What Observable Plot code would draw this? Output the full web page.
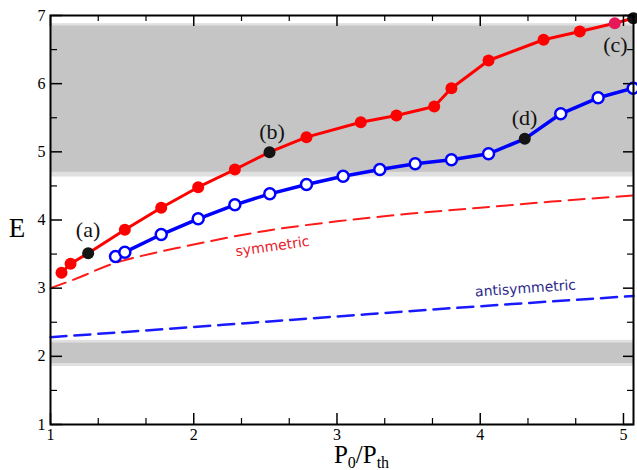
<!DOCTYPE html>
<html>
<head>
<meta charset="utf-8">
<script src="https://cdn.jsdelivr.net/npm/d3@7"></script>
<script src="https://cdn.jsdelivr.net/npm/@observablehq/plot@0.6"></script>
<style>
  html, body { margin: 0; padding: 0; background: white; }
</style>
</head>
<body>
<div id="chart"></div>
<script>
// ---- data ----
const redX = [1.077, 1.140, 1.263, 1.519, 1.773, 2.031, 2.287, 2.529, 2.787, 3.166, 3.415, 3.679, 3.799, 4.058, 4.442, 4.695, 4.939, 5.068];
const redY = [3.226, 3.358, 3.513, 3.856, 4.179, 4.481, 4.741, 4.995, 5.215, 5.435, 5.533, 5.665, 5.933, 6.340, 6.644, 6.765, 6.887, 6.960];
const blueX = [1.454, 1.519, 1.773, 2.031, 2.287, 2.531, 2.787, 3.043, 3.299, 3.546, 3.799, 4.058, 4.311, 4.562, 4.823, 5.068];
const blueY = [3.465, 3.528, 3.787, 4.018, 4.223, 4.384, 4.521, 4.643, 4.741, 4.825, 4.883, 4.971, 5.191, 5.558, 5.793, 5.934];
const redMarked = [2, 7, 17];   // points (a), (b), (c)
const redPink = [16];
const blueMarked = [12];        // point (d)

const symX = [1, 1.25, 1.5, 2, 2.5, 3, 3.5, 4, 4.5, 5.07];
const symY = [3.0, 3.2, 3.40, 3.64, 3.84, 3.98, 4.09, 4.18, 4.27, 4.36];
const antiX = [1, 2, 3, 4, 5.07];
const antiY = [2.28, 2.43, 2.585, 2.735, 2.885];

const bandLo = [4.63, 1.85];
const bandHi = [6.88, 2.235];
const bandCoreLo = [4.70, 1.895];
const bandCoreHi = [6.845, 2.195];

const ptLabels = ["(a)", "(b)", "(c)", "(d)"];
const ptLabelX = [1.262, 2.546, 4.944, 4.309];
const ptLabelY = [3.861, 5.298, 6.575, 5.504];

const curveLabels = ["symmetric", "antisymmetric"];
const curveLabelX = [2.55, 4.316];
const curveLabelY = [3.611, 2.995];

const xTicks = [1, 2, 3, 4, 5];
const xMinor = [4/3, 5/3, 7/3, 8/3, 10/3, 11/3, 13/3, 14/3];
const yTicks = [1, 2, 3, 4, 5, 6, 7];
const yMinor = [1.5, 2.5, 3.5, 4.5, 5.5, 6.5];

// ---- tables ----
const zip = (xs, ys) => xs.map((x, i) => ({x, y: ys[i], i}));
const red = zip(redX, redY);
const blue = zip(blueX, blueY);
const sym = zip(symX, symY);
const anti = zip(antiX, antiY);
const bandsLight = bandLo.map((lo, i) => ({lo, hi: bandHi[i]}));
const bandsCore = bandCoreLo.map((lo, i) => ({lo, hi: bandCoreHi[i]}));
const labels = ptLabels.map((t, i) => ({t, x: ptLabelX[i], y: ptLabelY[i]}));

const W = 637, H = 470;
const mL = 50, mR = 4, mT = 15, mB = 46;
const pw = W - mL - mR, ph = H - mT - mB;
const serif = "Liberation Serif, Times New Roman, serif";
const sans = "DejaVu Sans, Verdana, sans-serif";

const redFill = d => redMarked.includes(d.i) ? "#141414" : (redPink.includes(d.i) ? "#e5195a" : "#ff0000");

const chart = Plot.plot({
  width: W, height: H,
  marginLeft: mL, marginRight: mR, marginTop: mT, marginBottom: mB,
  x: {domain: [1, 5.07], label: null},
  y: {domain: [1, 7], label: null},
  style: {fontFamily: serif, fontSize: "16px", background: "white", color: "black"},
  marks: [
    Plot.rect(bandsLight, {y1: "lo", y2: "hi", fill: "#e0e0e0"}),
    Plot.rect(bandsCore, {y1: "lo", y2: "hi", fill: "#c5c5c5"}),
    Plot.line(sym, {x: "x", y: "y", stroke: "#ff1a1a", strokeWidth: 2, strokeDasharray: "16,8", curve: "natural"}),
    Plot.line(anti, {x: "x", y: "y", stroke: "#1a1aff", strokeWidth: 2.5, strokeDasharray: "16,8", curve: "natural"}),
    Plot.line(red, {x: "x", y: "y", stroke: "#ff0000", strokeWidth: 3}),
    Plot.line(blue, {x: "x", y: "y", stroke: "#0000ff", strokeWidth: 3.5}),
    Plot.dot(red, {x: "x", y: "y", r: 6, fill: redFill, stroke: "none"}),
    Plot.dot(blue.filter(d => !blueMarked.includes(d.i)), {x: "x", y: "y", r: 5.5, fill: "white", stroke: "#0000ff", strokeWidth: 2.5}),
    Plot.dot(blue.filter(d => blueMarked.includes(d.i)), {x: "x", y: "y", r: 6, fill: "#141414", stroke: "none"}),
    Plot.text(labels, {x: "x", y: "y", text: "t", fontSize: 22, fontFamily: serif, fill: "#111"}),
    Plot.text([curveLabels[0]], {x: () => curveLabelX[0], y: () => curveLabelY[0], text: d => d, fontSize: 14, fontFamily: sans, fill: "#e8202a", rotate: -8}),
    Plot.text([curveLabels[1]], {x: () => curveLabelX[1], y: () => curveLabelY[1], text: d => d, fontSize: 14, fontFamily: sans, fill: "#2e2a8c", rotate: -4}),
    // ticks (inward)
    Plot.tickX(xTicks, {x: d => d, insetTop: ph - 11, stroke: "black", strokeWidth: 1.5}),
    Plot.tickX(xTicks, {x: d => d, insetBottom: ph - 11, stroke: "black", strokeWidth: 1.5}),
    Plot.tickX(xMinor, {x: d => d, insetTop: ph - 6, stroke: "black", strokeWidth: 1.2}),
    Plot.tickX(xMinor, {x: d => d, insetBottom: ph - 6, stroke: "black", strokeWidth: 1.2}),
    Plot.tickY(yTicks, {y: d => d, insetRight: pw - 12, stroke: "black", strokeWidth: 1.5}),
    Plot.tickY(yTicks, {y: d => d, insetLeft: pw - 10, stroke: "black", strokeWidth: 1.5}),
    Plot.tickY(yMinor, {y: d => d, insetRight: pw - 7, stroke: "black", strokeWidth: 1.2}),
    Plot.tickY(yMinor, {y: d => d, insetLeft: pw - 6, stroke: "black", strokeWidth: 1.2}),
    Plot.axisX(xTicks, {tickSize: 0, tickPadding: 4, fontSize: 16, fontFamily: serif, tickFormat: d => String(d), label: null}),
    Plot.axisY(yTicks, {tickSize: 0, tickPadding: 5, fontSize: 16, fontFamily: serif, tickFormat: d => String(d), label: null}),
    Plot.frame({stroke: "black", strokeWidth: 2}),
    Plot.text(["E"], {frameAnchor: "left", dx: -33.5, dy: 8, textAnchor: "middle", text: d => d, fontSize: 27, fontFamily: serif, fill: "black"})
  ]
});

// x-axis title with subscripts
const svg = d3.select(chart);
const t = svg.append("text")
  .attr("x", mL + pw / 2 + 20)
  .attr("y", H - 7)
  .attr("text-anchor", "middle")
  .attr("font-family", serif)
  .attr("font-size", 25)
  .attr("fill", "black");
t.append("tspan").text("P");
t.append("tspan").attr("font-size", 16).attr("dy", 5).text("0");
t.append("tspan").attr("dy", -5).text("/P");
t.append("tspan").attr("font-size", 16).attr("dy", 5).text("th");

document.getElementById("chart").appendChild(chart);
</script>
</body>
</html>
